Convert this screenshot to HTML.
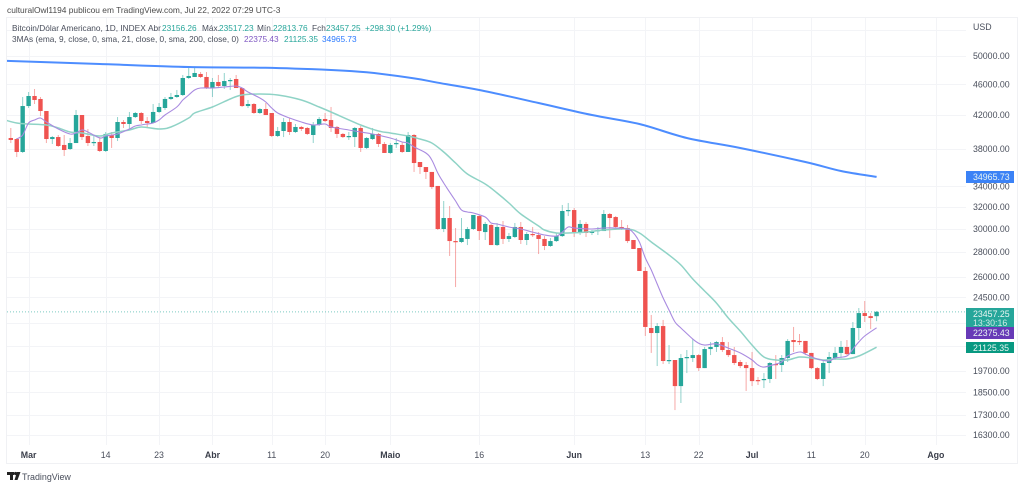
<!DOCTYPE html>
<html lang="pt">
<head>
<meta charset="utf-8">
<title>Bitcoin/Dólar Americano</title>
<style>
html,body{margin:0;padding:0;background:#fff;width:1024px;height:487px;overflow:hidden}
svg{display:block;font-family:"Liberation Sans",sans-serif}
text{white-space:pre}
</style>
</head>
<body>
<svg id="chart" width="1024" height="487" viewBox="0 0 1024 487" xmlns="http://www.w3.org/2000/svg">
  <defs><clipPath id="plot-clip"><rect x="7" y="18" width="959" height="427"/></clipPath></defs>
  <text x="7" y="13" font-size="8.4" fill="#4a4a4a">culturalOwl1194 publicou em TradingView.com, Jul 22, 2022 07:29 UTC-3</text>
  <rect x="6.5" y="17.5" width="1011" height="446" fill="#fff" stroke="#f0f1f4"/>
  <g id="grid"></g>
  <g id="price-axis"></g>
  <g id="time-axis"></g>
  <g clip-path="url(#plot-clip)">
    <g id="last-line"></g>
    <g id="candles"></g>
    <g id="mas"></g>
  </g>
  <g id="badges"></g>
  <g font-size="8.3">
    <text x="12" y="31" fill="#4a4f5c">Bitcoin/Dólar Americano, 1D, INDEX</text>
    <text x="148" y="31" fill="#4a4f5c">Abr</text><text x="162" y="31" fill="#26a69a">23156.26</text>
    <text x="202" y="31" fill="#4a4f5c">Máx.</text><text x="219" y="31" fill="#26a69a">23517.23</text>
    <text x="257" y="31" fill="#4a4f5c">Mín.</text><text x="273" y="31" fill="#26a69a">22813.76</text>
    <text x="312" y="31" fill="#4a4f5c">Fch</text><text x="326" y="31" fill="#26a69a">23457.25</text>
    <text x="365" y="31" fill="#26a69a">+298.30 (+1.29%)</text>
  </g>
  <g font-size="8.3">
    <text x="12" y="42" fill="#4a4f5c">3MAs (ema, 9, close, 0, sma, 21, close, 0, sma, 200, close, 0)</text>
    <text x="244" y="42" fill="#7e57c2">22375.43</text>
    <text x="284" y="42" fill="#26a69a">21125.35</text>
    <text x="322" y="42" fill="#2979ff">34965.73</text>
  </g>
  <text x="973" y="30" font-size="8.8" fill="#4a4f5c">USD</text>
  <g fill="#222">
    <rect x="7" y="472" width="7" height="3"/><rect x="10" y="472" width="3" height="8"/>
    <circle cx="15.6" cy="473.5" r="1.6"/><polygon points="17,472 20.5,472 17.5,480 14.5,480"/>
  </g>
  <text x="22" y="480" font-size="8.9" fill="#4a4f5c">TradingView</text>
<script>
var firstDay = -3;
var opens = [39230,39110,37640,43120,44420,44030,42490,39110,39340,38430,
37970,38650,41990,39460,38650,38770,37750,39580,39230,41130,
40890,41740,42240,41250,41010,42370,42870,44030,44290,44550,
46850,46990,47410,46990,45480,46300,45750,46430,46710,45480,
43120,43380,42240,42740,42240,39460,40050,41130,39930,40530,
40410,39580,40770,41500,41370,40530,39700,39340,39340,40410,
38090,39110,39700,38540,37530,38540,38430,37640,39580,36540,
36000,35480,34040,29970,30960,28920,28840,29100,29970,31140,
29700,30330,28580,30150,29100,29270,30150,29010,29530,29440,
29100,28500,28920,29350,31610,31700,29700,30420,29620,29790,
29790,31330,31050,30150,30060,29010,28330,26470,22360,22030,
22490,20280,20340,18830,20460,20460,20640,19860,21010,21140,
21450,20950,20640,20220,20040,19860,19170,19170,19230,20100,
20040,20460,21580,21520,21520,20770,19860,19230,20160,20460,
20770,21140,20700,22360,23370,23160,23156.26];
var highs = [40410,39230,44290,44950,45350,44290,42490,39460,39580,39580,
39230,42620,41990,40290,39460,39340,39930,39930,41740,41370,
42370,42370,42370,41740,43380,43510,44290,44820,45220,47270,
48400,48260,47690,47690,46850,47270,47550,46850,47270,45480,
43900,43510,42870,43510,42240,40530,41620,41620,40890,40650,
40530,41130,41740,42240,43000,40650,39810,39930,40530,40650,
39340,40410,39810,38770,38650,39230,38770,39930,39700,36540,
36000,35480,34040,32560,32080,30060,30960,30150,31240,31240,
30600,30420,30510,30690,29620,30510,30600,29700,30150,29700,
29350,29180,29620,32180,32370,31890,30780,30600,29880,30150,
31700,31420,31140,30780,30330,29010,28330,26780,23240,22690,
22900,21260,20340,20700,20950,21640,20700,21140,21450,21520,
21770,21450,21140,20340,20220,20830,19340,19570,20220,20640,
20640,21640,22430,21970,21520,20770,19920,20280,20830,21140,
21520,21580,22760,23720,24220,23370,23517.23];
var lows = [38650,37080,37530,42870,43380,41870,38650,38540,38200,37190,
37860,38650,39000,38310,38310,37640,37640,38090,38880,40410,
40170,41620,40890,40410,41010,42240,42620,43900,44160,44420,
46710,46990,46850,45350,44290,45480,45350,45220,45480,43000,
42870,42120,42120,41990,39340,39340,39340,39580,39810,40050,
39580,38650,40650,41130,39930,39230,39230,39000,38200,37640,
37970,39000,38200,37530,37420,38090,37530,37640,35480,35270,
34750,33730,29880,29700,27670,25240,28750,28580,29880,29010,
29010,28580,28500,28670,28840,29180,28670,28580,29270,27830,
28160,28420,28840,29270,31140,29270,29440,29270,29440,29440,
29790,29180,29880,29880,28750,28250,26470,21840,20770,19980,
20100,20100,17540,17910,19570,20220,19690,19860,20640,20830,
20830,20520,20040,19860,18560,18830,18890,18720,19000,19230,
19630,20220,20830,21260,20640,19800,19170,18830,19570,20340,
20460,20640,20700,21580,22760,22290,22813.76];
var closes = [39000,37640,43120,44420,43900,42490,39110,39340,38310,37860,
38650,41990,39340,38650,38770,37750,39700,39230,41130,40890,
41740,42240,41250,41010,42370,43000,44030,44290,44550,46850,
47130,47550,46990,45480,46300,45750,46430,46570,45480,43120,
43380,42240,42740,41990,39460,40050,41130,39930,40530,40290,
39700,40770,41500,41250,40410,39700,39340,39460,40410,38090,
39230,39700,38540,37530,38430,38650,37640,39580,36430,36000,
35480,33930,29970,30960,28920,28840,29180,29970,31240,29790,
30420,28580,30150,29100,29350,30150,29010,29530,29440,29100,
28500,28920,29350,31610,31700,29700,30420,29620,29790,29880,
31330,30960,30150,29970,28920,28250,26470,22430,22030,22490,
20280,20340,18830,20460,20520,20640,19860,21010,21140,21450,
20950,20640,20160,19980,19860,19110,19110,19230,20160,20040,
20460,21520,21450,21450,20770,19860,19230,20160,20520,20770,
21140,20700,22360,23370,23170,23030,23457.25];

var emaDays = [-2,-1,0,1,2,3,5,7,8,9,10,12,13,15,17,18,19,20,21,22,23,25,26,27,28,29,31,33,35,36,37,39,40,41,42,44,46,48,50,51,54,56,58,61,63,64,65,67,68,69,70,71,72,73,74,75,77,78,79,81,83,85,87,89,90,91,92,95,97,99,101,102,103,104,105,106,107,108,109,110,112,113,114,116,118,120,122,123,124,126,127,128,130,131,133,135,136,138,139,140,141,143];
var emaValues = [39110,39580,41010,41370,41620,41130,40290,39700,39810,40170,39930,39230,39460,39700,40290,40650,40770,40890,41010,41370,41990,43000,43900,44550,45220,45480,45480,45620,45750,45480,44950,44160,43640,42870,42240,41620,41130,40770,40890,40530,40170,39930,39700,39230,38770,38650,38200,37530,36760,35370,34340,33430,32560,31700,31520,31420,31050,30510,30420,30150,29970,29700,29440,29350,29700,30150,30060,29970,30060,30060,29970,29620,28840,27510,26550,25470,24440,23580,22760,22360,21640,21370,21260,21330,21070,20770,20340,20040,19920,20100,20220,20580,20830,20700,20400,20280,20460,20580,21010,21450,21840,22375.43];
var smaDays = [-4,-2,0,3,5,7,9,12,14,17,19,22,24,27,28,31,34,36,39,42,46,49,51,56,59,61,64,66,68,70,72,74,77,79,81,83,86,87,89,91,94,97,101,103,105,108,110,112,114,116,118,120,122,124,126,128,130,132,134,136,138,140,143];
var smaValues = [41370,41010,40890,40770,40410,39930,39810,39460,39810,40170,40530,40290,40530,41620,42240,43000,44030,44550,44680,44550,43900,43000,42370,40770,40050,39810,39460,39110,38650,37640,36430,35270,34240,33340,32370,31330,30240,29880,29620,29620,29700,29880,29970,29620,28840,27750,26940,25850,24950,24070,23030,22160,21260,20520,20340,20340,20520,20460,20340,20400,20400,20580,21125.35];
var longSmaDays = [-4,12,27,40,51,57,65,69,76,86,95,103,111,120,131,137,143];
var longSmaValues = [49300,48830,48400,48280,47970,47640,46800,46200,45220,43510,41990,40890,39230,38090,36540,35580,34965.73];

var priceTicks = [54000,50000,46000,42000,38000,34000,32000,30000,28000,26000,24500,22700,21200,19700,18500,17300,16300];
var hiddenLabelTicks = [54000];
var dateTickDays = [0,13,22,31,41,50,61,76,92,104,113,122,132,141,153];
var dateTickLabels = ["Mar","14","23","Abr","11","20","Maio","16","Jun","13","22","Jul","11","20","Ago"];
var dateTickBold = [1,0,0,1,0,0,1,0,1,0,0,1,0,0,1];
var lastPrice = 23457.25;
var lastEma = 22375.43;
var lastSma = 21125.35;
var lastLongSma = 34965.73;
var countdownLabel = "13:30:16";

var NS = "http://www.w3.org/2000/svg";
function xScale(d){ return 28.6 + 5.93 * d; }
function yScale(p){ return 56 + 338 * Math.log(50000 / p); }
function make(tag, attrs, parent){
  var el = document.createElementNS(NS, tag);
  for (var k in attrs) el.setAttribute(k, attrs[k]);
  parent.appendChild(el);
  return el;
}
var gridG = document.getElementById("grid");
var priceG = document.getElementById("price-axis");
var timeG = document.getElementById("time-axis");
var candleG = document.getElementById("candles");
var maG = document.getElementById("mas");
var badgeG = document.getElementById("badges");
var lastG = document.getElementById("last-line");

priceTicks.forEach(function(p){
  var y = Math.round(yScale(p)) + 0.5;
  var line = make("line", {x1:7, x2:966, y1:y, y2:y, stroke:"#f3f4f7", "stroke-width":1}, gridG);
  
  
  if (hiddenLabelTicks.indexOf(p) < 0) {
    var t = make("text", {x:973, y:yScale(p) + 3.2, "font-size":8.8, fill:"#4a4f5c"}, priceG);
    t.textContent = p.toFixed(2);
    
    
  }
});
dateTickDays.forEach(function(d, i){
  var x = Math.round(xScale(d)) + 0.5;
  var line = make("line", {x1:x, x2:x, y1:18, y2:445, stroke:"#f3f4f7", "stroke-width":1}, gridG);
  
  
  var t = make("text", {x:xScale(d), y:458, "font-size":8.8, "text-anchor":"middle", fill:dateTickBold[i] ? "#3a3e4a" : "#4a4f5c", "font-weight":dateTickBold[i] ? "bold" : "normal"}, timeG);
  t.textContent = dateTickLabels[i];
  
  
});

var lastPriceLine = make("line", {x1:7, x2:966, y1:yScale(lastPrice), y2:yScale(lastPrice), stroke:"#26a69a", "stroke-width":1, "stroke-dasharray":"1 2", opacity:0.6}, lastG);



opens.forEach(function(o, i){
  var d = firstDay + i;
  var c = closes[i];
  var up = c >= o;
  var col = up ? "#26a69a" : "#ef5350";
  var x = xScale(d);
  var wick = make("line", {x1:x, x2:x, y1:yScale(highs[i]), y2:yScale(lows[i]), stroke:col, "stroke-width":1, opacity:0.5}, candleG);
  
  
  var top = yScale(Math.max(o, c));
  var h = Math.max(1.2, yScale(Math.min(o, c)) - top);
  var body = make("rect", {x:x - 2.2, y:top, width:4.4, height:h, fill:col}, candleG);
  
  
});

function maPath(days, values){
  var pts = days.map(function(d, i){ return [xScale(d), yScale(values[i])]; });
  var s = "M" + pts[0][0].toFixed(1) + " " + pts[0][1].toFixed(1);
  for (var i = 0; i < pts.length - 1; i++) {
    var p0 = pts[Math.max(0, i - 1)], p1 = pts[i], p2 = pts[i + 1], p3 = pts[Math.min(pts.length - 1, i + 2)];
    var c1x = p1[0] + (p2[0] - p0[0]) / 6, c1y = p1[1] + (p2[1] - p0[1]) / 6;
    var c2x = p2[0] - (p3[0] - p1[0]) / 6, c2y = p2[1] - (p3[1] - p1[1]) / 6;
    s += " C" + c1x.toFixed(1) + " " + c1y.toFixed(1) + " " + c2x.toFixed(1) + " " + c2y.toFixed(1) + " " + p2[0].toFixed(1) + " " + p2[1].toFixed(1);
  }
  return s;
}
var smaLine = make("path", {d:maPath(smaDays, smaValues), fill:"none", stroke:"#8fd3c6", "stroke-width":1.5, "stroke-linejoin":"round"}, maG);


var emaLine = make("path", {d:maPath(emaDays, emaValues), fill:"none", stroke:"#a98be0", "stroke-width":1.1, "stroke-linejoin":"round"}, maG);


var longLine = make("path", {d:maPath(longSmaDays, longSmaValues), fill:"none", stroke:"#4d8dff", "stroke-width":2, "stroke-linejoin":"round"}, maG);



function badge(label, color, top, height, name){
  var r = make("rect", {x:966, y:top, width:48, height:height, fill:color}, badgeG);
  
  
  var t = make("text", {x:973, y:top + 8.9, "font-size":8.8, fill:"#e9f5f3"}, badgeG);
  t.textContent = label;
  
  
}
badge(lastLongSma.toFixed(2), "#3b82f6", Math.round(yScale(lastLongSma)) - 6, 12, "sma-200-badge");
badge(lastPrice.toFixed(2), "#26a69a", Math.round(yScale(lastPrice)) - 4, 19, "last-price-badge");
var countdown = make("text", {x:973, y:Math.round(yScale(lastPrice)) + 14, "font-size":8.8, fill:"#cfeae6"}, badgeG);
countdown.textContent = countdownLabel;


badge(lastEma.toFixed(2), "#673ab7", Math.round(yScale(lastEma)) - 1, 12, "ema-9-badge");
badge(lastSma.toFixed(2), "#089981", Math.round(yScale(lastSma)) - 5, 11, "sma-21-badge");
</script>
</svg>
</body>
</html>
